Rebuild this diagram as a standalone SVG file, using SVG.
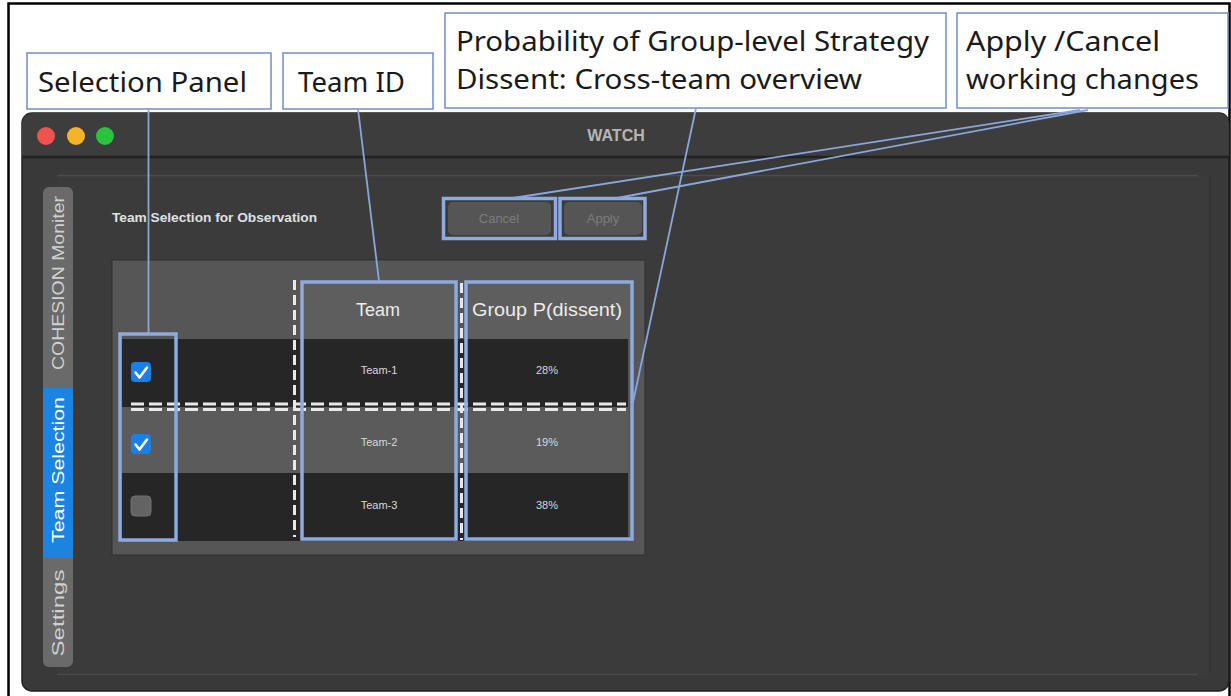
<svg xmlns="http://www.w3.org/2000/svg" width="1231" height="696" viewBox="0 0 1231 696">
<defs>
<style>
.lbl{fill:#ffffff;stroke:#6d8fc9;stroke-width:1.5}
.lt{font-family:"Noto Sans","Liberation Sans",sans-serif;font-size:27px;fill:#1a1a1a}
.conn{stroke:#8aa6da;stroke-width:1.8;fill:none}
.hl{fill:none;stroke:#8eaadf;stroke-width:3.5}
.ui{font-family:"Liberation Sans",Arial,sans-serif}
.dash{stroke:#e8e8e8;stroke-width:3;fill:none}
.cell{font-family:"Liberation Sans",Arial,sans-serif;font-size:11px;fill:#d8d8d8;text-anchor:middle}
.hdr{font-family:"Liberation Sans",Arial,sans-serif;font-size:18px;fill:#ececec;text-anchor:middle}
.tab{font-family:"Liberation Sans",Arial,sans-serif;font-size:16px;text-anchor:middle}
.cb{fill:#1a7fe6}
.ck{stroke:#ffffff;stroke-width:2.6;fill:none;stroke-linecap:round;stroke-linejoin:round}
</style>
</defs>
<rect x="0" y="0" width="1231" height="696" fill="#ffffff"/>
<path d="M8.5 700 V3.5 H1229.5 V700" fill="none" stroke="#000" stroke-width="2.5"/>

<g id="window">
<rect x="22" y="113" width="1207" height="578" rx="10" fill="#393939" stroke="#1f1f1f" stroke-width="1.5"/>
<path d="M22 157 V123 a10 10 0 0 1 10 -10 H1219 a10 10 0 0 1 10 10 V157 Z" fill="#3d3d3d"/>
<line x1="22" y1="157" x2="1229" y2="157" stroke="#222" stroke-width="2.5"/>
<circle cx="46" cy="136" r="9" fill="#f0524d"/>
<circle cx="76" cy="136" r="9" fill="#f5b428"/>
<circle cx="105" cy="136" r="9" fill="#2ac33f"/>
<text x="616" y="141" class="ui" font-size="16" font-weight="bold" fill="#b5b5b5" text-anchor="middle">WATCH</text>
<rect x="57" y="175" width="1153" height="500" fill="#3b3b3b"/>
<line x1="57" y1="175.5" x2="1198" y2="175.5" stroke="#4c4c4c" stroke-width="1.5"/>
<line x1="57" y1="674.5" x2="1198" y2="674.5" stroke="#4a4a4a" stroke-width="1.5"/>
<line x1="1210" y1="176" x2="1210" y2="675" stroke="#353535" stroke-width="1.5"/>
</g>

<g id="tabs">
<rect x="43" y="187" width="30" height="480" rx="6" fill="#6a6a6a"/>
<rect x="43" y="388" width="30" height="170" fill="#1a84e0"/>
<text class="tab" fill="#d0d0d0" transform="translate(64,283) rotate(-90)" textLength="174" lengthAdjust="spacingAndGlyphs">COHESION Moniter</text>
<text class="tab" fill="#ffffff" transform="translate(64,470) rotate(-90)" textLength="146" lengthAdjust="spacingAndGlyphs">Team Selection</text>
<text class="tab" fill="#d0d0d0" transform="translate(64,613) rotate(-90)" textLength="87" lengthAdjust="spacingAndGlyphs">Settings</text>
</g>

<g id="title-text">
<text x="112" y="222" class="ui" font-size="13" font-weight="bold" fill="#e0e0e0" textLength="205" lengthAdjust="spacingAndGlyphs">Team Selection for Observation</text>
</g>

<g id="buttons">
<rect x="448" y="202" width="103" height="33" rx="5" fill="#555555"/>
<text x="499" y="223" class="ui" font-size="13" fill="#7c7c7c" text-anchor="middle">Cancel</text>
<rect x="564" y="202" width="78" height="33" rx="5" fill="#555555"/>
<text x="603" y="223" class="ui" font-size="13" fill="#7c7c7c" text-anchor="middle">Apply</text>
<rect x="443.5" y="198.5" width="112" height="40" class="hl"/>
<rect x="560" y="198.5" width="85" height="40" class="hl"/>
</g>

<g id="table">
<rect x="112" y="260" width="533" height="295" fill="#565656" stroke="#303030" stroke-width="1"/>
<rect x="304" y="283" width="150" height="56" fill="#5e5e5e"/>
<rect x="468" y="283" width="162" height="56" fill="#5e5e5e"/>
<rect x="122" y="339" width="506" height="68" fill="#262626"/>
<rect x="122" y="407" width="506" height="66" fill="#5b5b5b"/>
<rect x="122" y="473" width="506" height="68" fill="#262626"/>
<text x="378" y="316" class="hdr">Team</text>
<text x="547" y="316" class="hdr" textLength="150" lengthAdjust="spacingAndGlyphs">Group P(dissent)</text>
<text x="379" y="374" class="cell">Team-1</text>
<text x="547" y="374" class="cell">28%</text>
<text x="379" y="446" class="cell">Team-2</text>
<text x="547" y="446" class="cell">19%</text>
<text x="379" y="509" class="cell">Team-3</text>
<text x="547" y="509" class="cell">38%</text>
<rect x="131" y="362" width="20" height="20" rx="4" class="cb"/>
<path d="M135.5 372.5 l4 5 l7.5 -10" class="ck"/>
<rect x="131" y="434" width="20" height="20" rx="4" class="cb"/>
<path d="M135.5 444.5 l4 5 l7.5 -10" class="ck"/>
<rect x="131" y="496" width="20" height="20" rx="4" fill="#636363" stroke="#707070" stroke-width="1"/>
<line x1="294.5" y1="280" x2="294.5" y2="537" class="dash" stroke-dasharray="10 5"/>
<line x1="461.5" y1="283" x2="461.5" y2="540" class="dash" stroke-dasharray="10 5"/>
<line x1="131" y1="404" x2="626" y2="404" class="dash" stroke-width="2.5" stroke-dasharray="13 5"/>
<line x1="131" y1="409.5" x2="626" y2="409.5" class="dash" stroke-width="2.5" stroke-dasharray="13 5"/>
<rect x="120" y="334" width="56" height="206" class="hl"/>
<rect x="302" y="282" width="154" height="257" class="hl"/>
<rect x="466" y="282" width="166" height="257" class="hl"/>
</g>

<g id="label-selection-panel">
<rect x="27" y="53" width="244" height="56" class="lbl"/>
<text x="38" y="92" class="lt" textLength="209" lengthAdjust="spacingAndGlyphs">Selection Panel</text>
</g>
<g id="label-team-id">
<rect x="283" y="53" width="150" height="56" class="lbl"/>
<text x="298" y="92" class="lt" textLength="107" lengthAdjust="spacingAndGlyphs">Team ID</text>
</g>
<g id="label-probability">
<rect x="445" y="13" width="501" height="95" class="lbl"/>
<text x="456" y="51" class="lt" textLength="473" lengthAdjust="spacingAndGlyphs">Probability of Group-level Strategy</text>
<text x="456" y="89" class="lt" textLength="406" lengthAdjust="spacingAndGlyphs">Dissent: Cross-team overview</text>
</g>
<g id="label-apply-cancel">
<rect x="957" y="13" width="271" height="95" class="lbl"/>
<text x="966" y="51" class="lt" textLength="194" lengthAdjust="spacingAndGlyphs">Apply /Cancel</text>
<text x="966" y="89" class="lt" textLength="233" lengthAdjust="spacingAndGlyphs">working changes</text>
</g>

<g id="connectors">
<line x1="148.5" y1="109" x2="148.5" y2="333" class="conn"/>
<line x1="358" y1="109" x2="379" y2="281" class="conn"/>
<line x1="696" y1="108" x2="632" y2="407" class="conn"/>
<line x1="1080" y1="110" x2="513" y2="198" class="conn"/>
<line x1="1088" y1="110" x2="617" y2="198" class="conn"/>
</g>
</svg>
